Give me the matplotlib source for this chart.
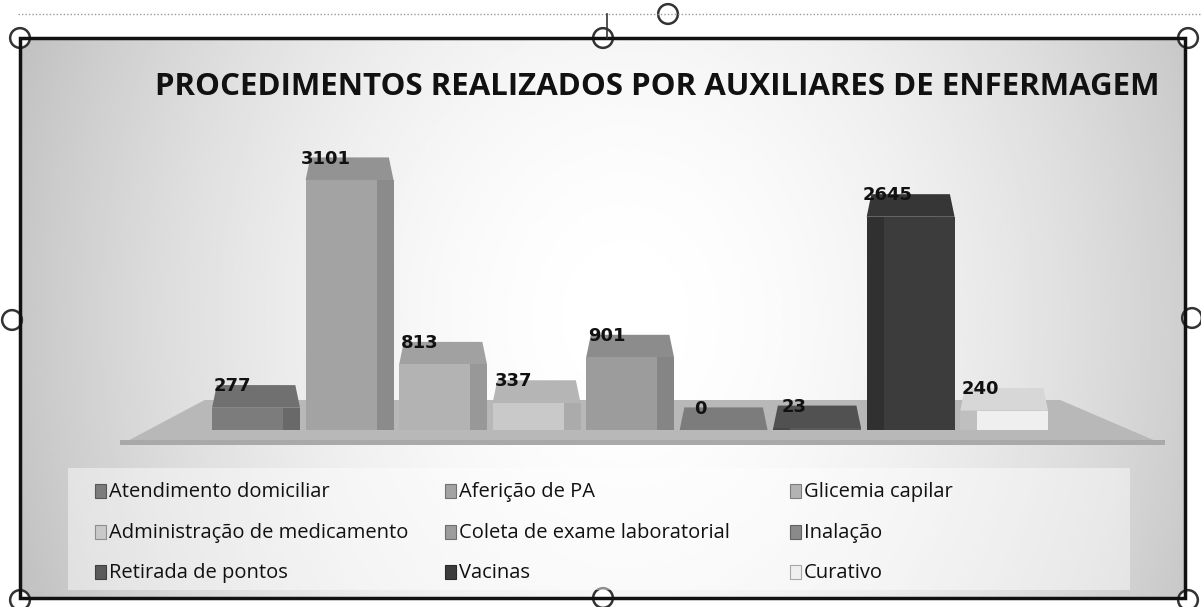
import matplotlib

matplotlib.use("Agg")
import matplotlib.pyplot as plt
import numpy as np
from matplotlib.patches import Circle, Polygon, Rectangle

W, H = 1201, 607

title = "PROCEDIMENTOS REALIZADOS POR AUXILIARES DE ENFERMAGEM"
categories = [
    "Atendimento domiciliar",
    "Aferição de PA",
    "Glicemia capilar",
    "Administração de medicamento",
    "Coleta de exame laboratorial",
    "Inalação",
    "Retirada de pontos",
    "Vacinas",
    "Curativo",
]
values = [277, 3101, 813, 337, 901, 0, 23, 2645, 240]
colors = ["#7c7c7c", "#a3a3a3", "#b3b3b3", "#c9c9c9", "#9c9c9c",
          "#8a8a8a", "#5a5a5a", "#3c3c3c", "#efefef"]


def fx(px):
    return px / W


def fy(py):
    return 1 - py / H


def shade(color, k):
    rgb = np.array(matplotlib.colors.to_rgb(color))
    return tuple(np.clip(rgb * k, 0, 1))


fig = plt.figure(figsize=(W / 100, H / 100), dpi=100)
fig.patch.set_facecolor("white")

# chart area background: bright centre fading to grey at the edges
bg = fig.add_axes([fx(20), fy(598), fx(1185) - fx(20), fy(38) - fy(598)])
gx, gy = np.meshgrid(np.linspace(0, 1, 400), np.linspace(0, 1, 200))
dist = np.sqrt(((gx - 0.52) / 0.55) ** 2 + ((gy - 0.5) / 1.4) ** 2)
shade_img = 1 - 0.24 * np.clip(dist, 0, 1.2) ** 1.8
bg.imshow(shade_img, cmap="gray", vmin=0, vmax=1, aspect="auto", extent=[0, 1, 0, 1])
bg.set_axis_off()

# plot axes: x in category index, y in value units
ax = fig.add_axes([fx(120), fy(450), fx(1165) - fx(120), fy(130) - fy(450)])
ax.set_xlim(-1.455, 9.72)
ax.set_ylim(-248, 3721)
ax.set_axis_off()

# floor
floor = Polygon([(-1.455, -186), (9.72, -186), (8.6, 372), (-0.55, 372)],
                closed=True, facecolor="#b8b8b8", edgecolor="none", zorder=1)
ax.add_patch(floor)
ax.add_patch(Polygon([(-1.455, -186), (9.72, -186), (9.72, -120), (-1.455, -120)],
                     closed=True, facecolor="#a9a9a9", edgecolor="none", zorder=1))

width = 0.94
depth = 280
side_w = 0.18

for i, (v, c) in enumerate(zip(values, colors)):
    left = i - width / 2
    # top face
    ax.add_patch(Polygon([(left, v), (left + width, v), (left + width - 0.05, v + depth),
                          (left + 0.05, v + depth)], closed=True,
                         facecolor=shade(c, 0.9), edgecolor="none", zorder=2 + i * 0.01))
    ax.bar(i, v, width=width, color=c, zorder=2 + i * 0.01)
    if i <= 4:
        ax.bar(left + width - side_w / 2, v, width=side_w, color=shade(c, 0.85),
               zorder=2.005 + i * 0.01)
    else:
        ax.bar(left + side_w / 2, v, width=side_w, color=shade(c, 0.8),
               zorder=2.005 + i * 0.01)
    ax.text(i - 0.25, v + depth * 0.55, str(v), ha="center", va="bottom",
            fontsize=13, fontweight="bold", color="#111111", zorder=5)

fig.text(fx(657), fy(87), title, ha="center", va="center", fontsize=22.5,
         fontweight="bold", family="Open Sans", color="#111111")

# legend box
fig.patches.append(Rectangle((fx(68), fy(590)), fx(1130) - fx(68), fy(468) - fy(590),
                             transform=fig.transFigure, facecolor="white", alpha=0.45,
                             edgecolor="none"))
col_x = [95, 445, 790]
row_y = [492, 533, 573]
for k, (name, c) in enumerate(zip(categories, colors)):
    cx = col_x[k % 3]
    ry = row_y[k // 3]
    fig.patches.append(Rectangle((fx(cx), fy(ry + 6)), fx(11), 14 / H,
                                 transform=fig.transFigure, facecolor=c,
                                 edgecolor=shade(c, 0.7), linewidth=0.8))
    fig.text(fx(cx + 14), fy(ry), name, ha="left", va="center", fontsize=14.5,
             family="Open Sans", color="#111111")

# selection frame and handles
fig.patches.append(Rectangle((fx(20), fy(598)), fx(1185) - fx(20), fy(38) - fy(598),
                             transform=fig.transFigure, facecolor="none",
                             edgecolor="#111111", linewidth=2.5))
fig.lines.append(plt.Line2D([fx(18), fx(1201)], [fy(14), fy(14)], transform=fig.transFigure,
                            color="#9a9a9a", linestyle=(0, (1, 1.5)), linewidth=1))
fig.lines.append(plt.Line2D([fx(607), fx(607)], [fy(14), fy(38)], transform=fig.transFigure,
                            color="#333333", linewidth=1.2))
handles = [(20, 38), (603, 38), (1188, 38), (12, 320), (1192, 318),
           (20, 600), (603, 598), (1188, 600), (668, 14)]
for hx, hy in handles:
    ax_c = fig.add_axes([fx(hx - 12), fy(hy + 12), 24 / W, 24 / H])
    ax_c.set_xlim(-1, 1)
    ax_c.set_ylim(-1, 1)
    ax_c.add_patch(Circle((0, 0), 0.82, facecolor="white", edgecolor="#333333", linewidth=1.8))
    ax_c.set_axis_off()

fig.savefig("out.png", dpi=100)
